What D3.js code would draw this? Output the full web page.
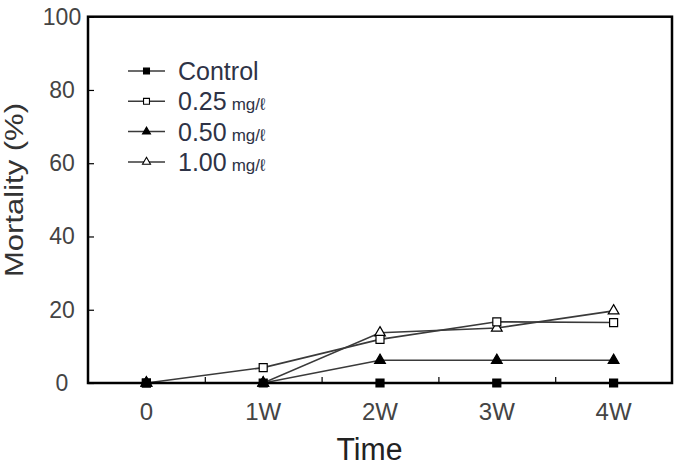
<!DOCTYPE html>
<html>
<head>
<meta charset="utf-8">
<script src="https://cdn.jsdelivr.net/npm/d3@7"></script>
<style>
  body { margin: 0; background: #fff; }
  text { font-family: "Liberation Sans", Arial, sans-serif; }
</style>
</head>
<body>
<svg width="680" height="466"></svg>
<script>
const times = ["0", "1W", "2W", "3W", "4W"];
const control = [0, 0, 0, 0, 0];
const c025 = [0, 4.2, 11.9, 16.7, 16.5];
const c050 = [0, 0, 6.2, 6.2, 6.2];
const c100 = [0, 0, 13.7, 15, 19.7];
const yTicks = [0, 20, 40, 60, 80, 100];
const legendNames = ["Control", "0.25", "0.50", "1.00"];

const svg = d3.select("svg");
const margin = {left: 88, right: 8, top: 16.7, bottom: 83};
const width = 680, height = 466;

const x = d3.scaleLinear().domain([-0.5, 4.5]).range([margin.left, width - margin.right]);
const y = d3.scaleLinear().domain([0, 100]).range([height - margin.bottom, margin.top]);

const series = [
  {name: legendNames[0], values: control, shape: d3.symbolSquare, fill: "#000", size: 64},
  {name: legendNames[1], values: c025, shape: d3.symbolSquare, fill: "#fff", size: 64},
  {name: legendNames[2], values: c050, shape: d3.symbolTriangle, fill: "#000", size: 50},
  {name: legendNames[3], values: c100, shape: d3.symbolTriangle, fill: "#fff", size: 50},
];

const line = d3.line().x((d, i) => x(i)).y(d => y(d));

// lines first, markers on top
series.forEach(s => {
  svg.append("path")
    .attr("d", line(s.values))
    .attr("fill", "none")
    .attr("stroke", "#3a3a3a")
    .attr("stroke-width", 1.6);
});
series.slice().reverse().forEach(s => {
  svg.append("g").selectAll("path")
    .data(s.values)
    .join("path")
    .attr("transform", (d, i) => `translate(${x(i)},${y(d)})`)
    .attr("d", d3.symbol().type(s.shape).size(s.size))
    .attr("fill", s.fill)
    .attr("stroke", "#000")
    .attr("stroke-width", 1.2);
});

// frame
svg.append("rect")
  .attr("x", x(-0.5)).attr("y", y(100))
  .attr("width", x(4.5) - x(-0.5)).attr("height", y(0) - y(100))
  .attr("fill", "none").attr("stroke", "#000").attr("stroke-width", 2.5);

// y axis: inside ticks, centred labels
const yAxis = svg.append("g").attr("transform", `translate(${margin.left},0)`)
  .call(d3.axisRight(y).tickValues(yTicks).tickSize(6).tickFormat(""));
yAxis.select(".domain").remove();
yAxis.selectAll("line").attr("stroke", "#000").attr("stroke-width", 1.2);
svg.append("g").selectAll("text")
  .data(yTicks)
  .join("text")
  .attr("x", 62).attr("y", d => y(d) + 8)
  .attr("text-anchor", "middle")
  .attr("font-size", 23)
  .attr("fill", "#444")
  .text(d => d);

// x axis: minor inside ticks between points
const xAxis = svg.append("g").attr("transform", `translate(0,${y(0)})`)
  .call(d3.axisTop(x).tickValues([0.5, 1.5, 2.5, 3.5]).tickSize(6).tickFormat(""));
xAxis.select(".domain").remove();
xAxis.selectAll("line").attr("stroke", "#000").attr("stroke-width", 1.2);
svg.append("g").selectAll("text")
  .data(times)
  .join("text")
  .attr("x", (d, i) => x(i)).attr("y", 420)
  .attr("text-anchor", "middle")
  .attr("font-size", 24)
  .attr("fill", "#444")
  .text(d => d);

svg.append("text")
  .attr("x", 369.5).attr("y", 460)
  .attr("text-anchor", "middle")
  .attr("font-size", 31)
  .attr("textLength", 66)
  .attr("lengthAdjust", "spacingAndGlyphs")
  .attr("fill", "#222")
  .text("Time");

svg.append("text")
  .attr("transform", "translate(23,190) rotate(-90)")
  .attr("text-anchor", "middle")
  .attr("font-size", 25)
  .attr("textLength", 174)
  .attr("lengthAdjust", "spacingAndGlyphs")
  .attr("fill", "#333")
  .text("Mortality (%)");

// legend
const legend = svg.append("g");
series.forEach((s, i) => {
  const ly = 71 + i * 30.3;
  legend.append("line")
    .attr("x1", 128).attr("x2", 165).attr("y1", ly).attr("y2", ly)
    .attr("stroke", "#3a3a3a").attr("stroke-width", 1.5);
  legend.append("path")
    .attr("transform", `translate(146.5,${ly})`)
    .attr("d", d3.symbol().type(s.shape).size(s.size * 0.55))
    .attr("fill", s.fill).attr("stroke", "#000").attr("stroke-width", 1.1);
  const t = legend.append("text")
    .attr("x", 178).attr("y", ly + 9)
    .attr("font-size", 25)
    .attr("fill", "#2e3346");
  t.append("tspan").text(s.name);
  if (i > 0) {
    t.append("tspan").attr("font-size", 17).attr("dx", 5).text("mg/ℓ");
  }
});
</script>
</body>
</html>
